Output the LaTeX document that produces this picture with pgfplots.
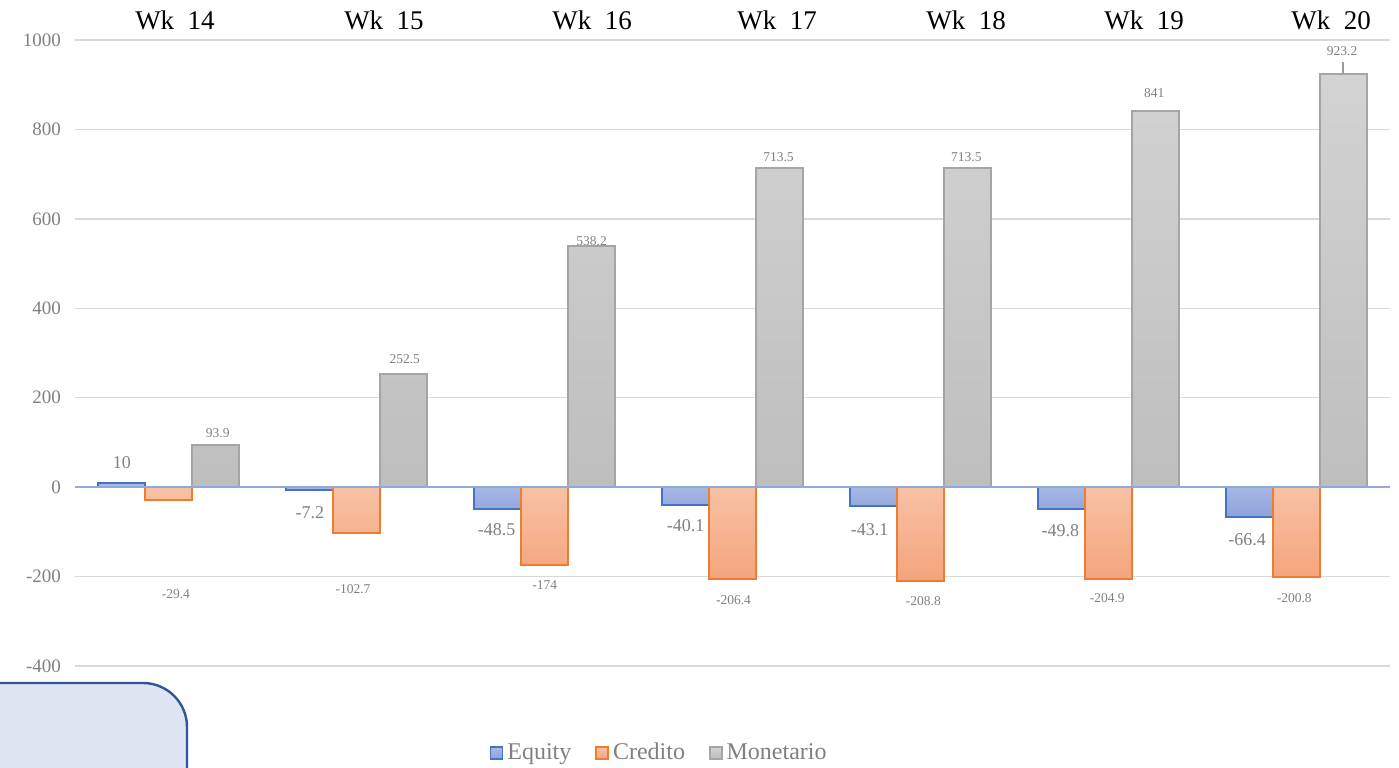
\documentclass[border=0pt]{standalone}
\usepackage{pgfplots}
\pgfplotsset{compat=1.18}
\usepackage{fontspec}
\setmainfont{Liberation Serif}
\definecolor{eqB}{HTML}{4472C4}
\definecolor{eqT}{HTML}{AABAE6}
\definecolor{eqBot}{HTML}{8EA2DB}
\definecolor{crB}{HTML}{ED7D31}
\definecolor{crT}{HTML}{F8C1A4}
\definecolor{crBot}{HTML}{F4A47C}
\definecolor{moB}{HTML}{A5A5A5}
\definecolor{moT}{HTML}{D3D3D3}
\definecolor{moBot}{HTML}{BEBEBE}
\definecolor{lbl}{HTML}{808080}
\definecolor{gridc}{HTML}{D9D9D9}
\definecolor{zeroc}{HTML}{8FAADC}
\definecolor{boxF}{HTML}{DEE6F4}
\definecolor{boxB}{HTML}{2F5597}
\begin{document}
\begin{tikzpicture}[x=1pt,y=1pt]
\useasboundingbox (0,0) rectangle (699.5,383.5);
\begin{axis}[
  at={(37.5pt,50.5pt)}, anchor=south west,
  scale only axis, width=657.5pt, height=313pt,
  xmin=-0.5, xmax=6.5, ymin=-400, ymax=1000,
  ytick={-400,-200,...,1000},
  xtick=\empty,
  axis line style={draw=none},
  major tick style={draw=none},
  ymajorgrids, grid style={gridc, line width=0.75pt},
  yticklabel style={font=\fontsize{9.5}{10}\selectfont, text=lbl, xshift=-3.5pt,
    /pgf/number format/1000 sep={}},
  /pgf/number format/assume math mode=true,
  ybar, bar width=0.25,
  legend style={at={(0.445,-0.139)}, anchor=center, draw=none, fill=none,
    legend columns=-1, font=\fontsize{12}{13}\selectfont, text=lbl,
    /tikz/every even column/.append style={column sep=10pt},
    inner sep=0pt, nodes={inner sep=2pt}},
  legend image code/.code={\draw[#1, line width=0.8pt] (0pt,-3pt) rectangle (6pt,3pt);},
  clip=false,
]
\addplot[bar shift=-0.25, draw=eqB, line width=1pt, top color=eqT, bottom color=eqBot] coordinates {
 (0,10) (1,-7.2) (2,-48.5) (3,-40.1) (4,-43.1) (5,-49.8) (6,-66.4)};
\addlegendentry{Equity}
\addplot[bar shift=0, draw=crB, line width=1pt, top color=crT, bottom color=crBot] coordinates {
 (0,-29.4) (1,-102.7) (2,-174) (3,-206.4) (4,-208.8) (5,-204.9) (6,-200.8)};
\addlegendentry{Credito}
\addplot[bar shift=0.25, draw=moB, line width=1pt, top color=moT, bottom color=moBot] coordinates {
 (0,93.9) (1,252.5) (2,538.2) (3,713.5) (4,713.5) (5,841) (6,923.2)};
\addlegendentry{Monetario}
\draw[zeroc, line width=0.75pt] (axis cs:-0.5,0) -- (axis cs:6.5,0);
% Equity labels
\begin{scope}[every node/.style={font=\fontsize{9}{10}\selectfont, text=lbl, inner sep=0pt}]
\node at (axis cs:-0.25,56) {10};
\node at (axis cs:0.75,-56) {-7.2};
\node at (axis cs:1.745,-96) {-48.5};
\node at (axis cs:2.75,-87) {-40.1};
\node at (axis cs:3.73,-94) {-43.1};
\node at (axis cs:4.745,-98) {-49.8};
\node at (axis cs:5.74,-118) {-66.4};
\end{scope}
\begin{scope}[every node/.style={font=\fontsize{6.75}{8}\selectfont, text=lbl, inner sep=0pt}]
\node at (axis cs:0.037,-239) {-29.4};
\node at (axis cs:0.98,-228) {-102.7};
\node at (axis cs:2.0,-219) {-174};
\node at (axis cs:3.005,-253) {-206.4};
\node at (axis cs:4.016,-255) {-208.8};
\node at (axis cs:4.995,-248) {-204.9};
\node at (axis cs:5.99,-248) {-200.8};
\node at (axis cs:0.26,121) {93.9};
\node at (axis cs:1.255,286) {252.5};
\node at (axis cs:2.25,550) {538.2};
\node at (axis cs:3.245,738) {713.5};
\node at (axis cs:4.245,738) {713.5};
\node at (axis cs:5.245,881) {841};
\node at (axis cs:6.245,975) {923.2};
\end{scope}
\draw[lbl!80, line width=0.6pt] (axis cs:6.25,951) -- (axis cs:6.25,923.2);
\end{axis}
\begin{scope}[every node/.style={font=\fontsize{13.5}{15}\selectfont, anchor=base, inner sep=0pt}]
\node at (87.5,368.5) {Wk\ \ 14};
\node at (192,368.5) {Wk\ \ 15};
\node at (296,368.5) {Wk\ \ 16};
\node at (388.5,368.5) {Wk\ \ 17};
\node at (483,368.5) {Wk\ \ 18};
\node at (572,368.5) {Wk\ \ 19};
\node at (665.5,368.5) {Wk\ \ 20};
\end{scope}
\draw[boxB, fill=boxF, line width=1.2pt, rounded corners=22pt] (-30,-30) rectangle (93.5,42);
\end{tikzpicture}
\end{document}
